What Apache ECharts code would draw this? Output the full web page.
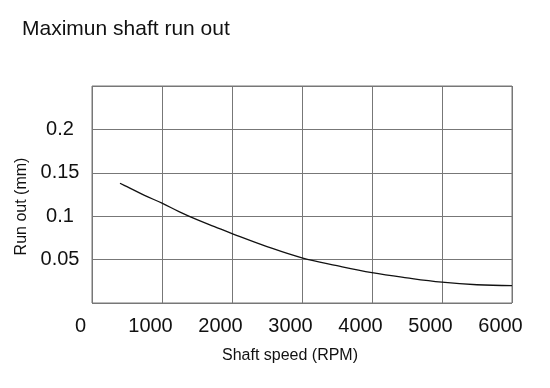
<!DOCTYPE html>
<html>
<head>
<meta charset="utf-8">
<script src="https://cdn.jsdelivr.net/npm/echarts@6/dist/echarts.min.js"></script>
<style>html,body{margin:0;padding:0;background:#fff}#c{width:550px;height:388px}</style>
</head>
<body>
<div id="c"></div>
<script>
var titleText = 'Maximun shaft run out';
var xName = 'Shaft speed (RPM)';
var yName = 'Run out (mm)';
var speeds = [400, 500, 750, 1000, 1250, 1500, 1750, 2000, 2500, 3000, 3500, 4000, 4500, 5000, 5500, 6000];
var runOut = [0.138, 0.134, 0.124, 0.115, 0.105, 0.096, 0.088, 0.080, 0.065, 0.052, 0.043, 0.035, 0.029, 0.024, 0.021, 0.020];
var xTicks = [0, 1000, 2000, 3000, 4000, 5000, 6000];
var yTicks = [0.05, 0.1, 0.15, 0.2];

var FONT = '"Liberation Sans", Arial, Helvetica, sans-serif';
var chart = echarts.init(document.getElementById('c'), null, {renderer: 'canvas'});
chart.setOption({
  animation: false,
  backgroundColor: '#fff',
  title: {
    text: titleText, left: 17, top: 14,
    textStyle: {fontFamily: FONT, fontSize: 21, fontWeight: 'normal', color: '#111'}
  },
  grid: {left: 92, right: 38, top: 86, bottom: 85, show: true, borderColor: '#777', borderWidth: 1},
  xAxis: {
    type: 'value', min: 0, max: 6000, interval: 1000,
    name: xName, nameLocation: 'middle', nameGap: 45,
    nameTextStyle: {fontFamily: FONT, fontSize: 16, color: '#111', padding: [0, 24, 0, 0]},
    axisLine: {show: false}, axisTick: {show: false},
    splitLine: {show: true, lineStyle: {color: '#777', width: 1}},
    axisLabel: {
      fontFamily: FONT, fontSize: 20, color: '#111', margin: 13, padding: [0, 23, 0, 0],
      formatter: function (v) { return xTicks.indexOf(v) >= 0 ? String(v) : ''; }
    }
  },
  yAxis: {
    type: 'value', min: 0, max: 0.25, interval: 0.05,
    name: yName, nameLocation: 'middle', nameGap: 62, nameRotate: 90,
    nameTextStyle: {fontFamily: FONT, fontSize: 16, color: '#111', padding: [0, 24, 0, 0]},
    axisLine: {show: false}, axisTick: {show: false},
    splitLine: {show: true, lineStyle: {color: '#777', width: 1}},
    axisLabel: {
      fontFamily: FONT, fontSize: 20, color: '#111', margin: 32, align: 'center',
      formatter: function (v) {
        for (var i = 0; i < yTicks.length; i++) if (Math.abs(yTicks[i] - v) < 1e-9) return String(yTicks[i]);
        return '';
      }
    }
  },
  series: [{
    type: 'line', smooth: 0.4, symbol: 'none',
    data: speeds.map(function (s, i) { return [s, runOut[i]]; }),
    lineStyle: {color: '#111', width: 1.3}
  }]
});
</script>
</body>
</html>
